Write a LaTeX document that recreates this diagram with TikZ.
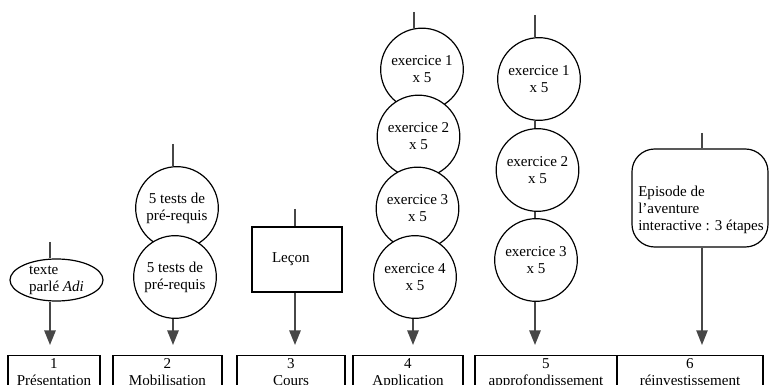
\documentclass[tikz,border=0pt]{standalone}
\usepackage{fontspec}
\setmainfont{Liberation Serif}
\usetikzlibrary{shapes.geometric,arrows.meta}
\begin{document}
\begin{tikzpicture}[x=0.75pt,y=-0.75pt,
  txt/.style={font=\fontsize{11.3pt}{12.75pt}\selectfont, text=black},
  circ/.style={txt,circle,draw,line width=0.9pt,fill=white,minimum size=62pt,inner sep=0pt,align=center},
  ln/.style={draw=black!72,line width=1.5pt},
  arr/.style={ln,-{Triangle[width=8.5pt,length=11pt]}},
  stage/.style={txt,draw,line width=0.9pt,anchor=north,align=center,inner xsep=2pt,inner ysep=2pt}
]
\clip (0,0) rectangle (769,385);
\fill[white] (0,0) rectangle (769,385);

% tips and free ends
\coordinate (t1) at (50,345);
\coordinate (t2) at (173,345);
\coordinate (t3) at (295,345);
\coordinate (t4) at (413,345);
\coordinate (t5) at (535,345);
\coordinate (t6) at (702,345);
\coordinate (s1) at (50,242);
\coordinate (s2) at (173,144);
\coordinate (s3) at (295,209);
\coordinate (s4) at (414,12);
\coordinate (s5) at (535,15);
\coordinate (s6) at (702,133);

% bottom stages
\node[stage,minimum width=69pt]    (b1) at (54,355)  {1\\Présentation};
\node[stage,minimum width=81.75pt] (b2) at (167.5,355) {2\\Mobilisation};
\node[stage,minimum width=81pt]    (b3) at (291,355) {3\\Cours};
\node[stage,minimum width=82.5pt]  (b4) at (408,355) {4\\Application};
\node[stage,minimum width=106.5pt] (b5) at (546,355) {5\\approfondissement};
\node[stage,minimum width=109.5pt] (b6) at (690,355) {6\\réinvestissement};

% column 1
\node[txt,ellipse,draw,line width=0.9pt,minimum width=69.75pt,minimum height=31.5pt,inner sep=0pt,align=left] (e1) at (56.5,280) {texte\\parlé \textit{Adi}};
\draw[ln] (s1) -- (s1 |- e1.north);
\draw[arr] (t1 |- e1.south) -- (t1);

% column 2
\node[circ] (c21) at (177,208) {5 tests de\\pré-requis};
\node[circ] (c22) at (175,277) {5 tests de\\pré-requis};
\draw[ln] (s2) -- (s2 |- c21.north);
\draw[arr] (t2 |- c22.south) -- (t2);

% column 3
\node[txt,draw,line width=0.9pt,minimum height=48.75pt,text width=37.5pt,inner xsep=15pt,align=left] (l3) at (297,259.5) {Leçon};
\draw[ln] (s3) -- (s3 |- l3.north);
\draw[arr] (t3 |- l3.south) -- (t3);

% column 4
\node[circ] (c41) at (422,69.5)  {exercice 1\\x 5};
\node[circ] (c42) at (418.5,136.5) {exercice 2\\x 5};
\node[circ] (c43) at (417.5,208.5) {exercice 3\\x 5};
\node[circ] (c44) at (415,277)   {exercice 4\\x 5};
\draw[ln] (s4) -- (s4 |- c41.north);
\draw[arr] (t4 |- c44.south) -- (t4);

% column 5
\node[circ] (c51) at (539,79)  {exercice 1\\x 5};
\node[circ] (c52) at (537.5,170) {exercice 2\\x 5};
\node[circ] (c53) at (536,260) {exercice 3\\x 5};
\draw[ln] (s5) -- (s5 |- c51.north);
\draw[ln] (s5 |- c51.south) -- (s5 |- c52.north);
\draw[ln] (s5 |- c52.south) -- (s5 |- c53.north);
\draw[arr] (t5 |- c53.south) -- (t5);

% column 6
\node[draw,line width=0.9pt,rounded corners=17pt,minimum width=102pt,minimum height=73.5pt,inner sep=0pt] (ep6) at (700,198) {};
\node[txt,align=left,anchor=west,inner sep=0pt] (ep6t) at (638,210) {Episode de\\l’aventure\\interactive : 3 étapes};
\draw[ln,line width=1pt] (s6) -- (s6 |- ep6.north);
\draw[arr,line width=1pt] (t6 |- ep6.south) -- (t6);
\end{tikzpicture}
\end{document}
